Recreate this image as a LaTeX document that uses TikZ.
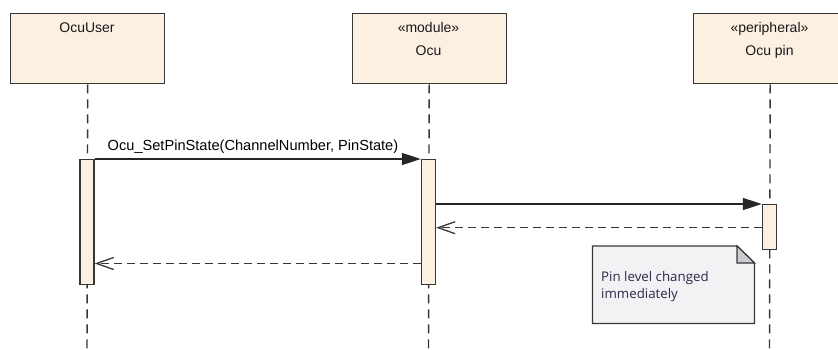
\documentclass[tikz,border=0pt]{standalone}
\usepackage{fontspec}
\setmainfont{Liberation Sans}
\newfontfamily\notefont{Open Sans}
\usetikzlibrary{arrows.meta}
\definecolor{boxfill}{RGB}{251,240,226}
\definecolor{boxline}{RGB}{55,55,55}
\definecolor{notefill}{RGB}{244,241,245}
\definecolor{foldfill}{RGB}{205,203,208}
\definecolor{notetext}{RGB}{40,42,70}
\definecolor{txt}{RGB}{25,25,25}
\tikzset{
  lifebox/.style={draw=boxline, fill=boxfill, line width=1.4pt, minimum width=154pt, minimum height=70pt, inner sep=0pt, anchor=north west},
  boxtext/.style={anchor=base, inner sep=0pt, text=txt, font=\fontsize{14}{16}\selectfont},
  lifeline/.style={draw=boxline, line width=1.4pt, dash pattern=on 9pt off 6pt},
  actbar/.style={draw=boxline, fill=boxfill, line width=1.4pt, minimum width=14pt, inner sep=0pt, anchor=north},
  callmsg/.style={draw=black!85, line width=1.4pt, -{Triangle[length=19pt,width=12pt]}},
  retmsg/.style={draw=boxline, line width=1.4pt, dash pattern=on 8pt off 5pt, -{Straight Barb[length=17pt,width=12pt,line width=1.3pt]}},
  msgtext/.style={anchor=base, inner sep=0pt, text=black, font=\fontsize{14.6}{16}\selectfont},
  notetxt/.style={anchor=base west, inner sep=0pt, text=notetext, font=\notefont\fontsize{13.3}{17}\selectfont}
}
\begin{document}
\begin{tikzpicture}[x=1pt,y=-1pt]
\useasboundingbox (0,0) rectangle (838,349);
\clip (0,0) rectangle (838,349);
% lifelines
\coordinate (uEnd) at (87,352);
\coordinate (oEnd) at (428.5,352);
\coordinate (pEnd) at (769.5,352);
% heads
\node[lifebox] (user) at (10,13) {};
\node[lifebox] (ocu) at (351.5,13) {};
\node[lifebox] (pin) at (692.5,13) {};
\draw[lifeline] (user.south) -- (uEnd);
\draw[lifeline] (ocu.south) -- (oEnd);
\draw[lifeline] (pin.south) -- (pEnd);
\node[boxtext] (userT) at (87,32.3) {OcuUser};
\node[boxtext] (ocuS) at (428.5,32.3) {«module»};
\node[boxtext] (ocuT) at (428.5,55) {Ocu};
\node[boxtext] (pinS) at (769.5,32.3) {«peripheral»};
\node[boxtext] (pinT) at (769.5,55) {Ocu pin};
% activation bars
\node[actbar, minimum height=125pt] (userA) at (87,159) {};
\node[actbar, minimum height=125pt] (ocuA) at (428.5,159) {};
\node[actbar, minimum height=45pt] (pinA) at (769.5,204) {};
% messages
\draw[callmsg] (userA.north east) -- (ocuA.north west);
\node[msgtext] (m1) at (253,150.7) {Ocu\_SetPinState(ChannelNumber, PinState)};
\draw[callmsg] (ocuA.east |- pinA.north) -- (pinA.north west);
\draw[retmsg] (pinA.west |- 0,227.7) -- (ocuA.east |- 0,227.7);
\draw[retmsg] (ocuA.west |- 0,263.5) -- (userA.east |- 0,263.5);
% note
\draw[draw=boxline, fill=notefill, line width=1.4pt] (592.5,246) -- (737,246) -- (754.5,263) -- (754.5,323.5) -- (592.5,323.5) -- cycle;
\draw[draw=boxline, fill=foldfill, line width=1.1pt] (737,246) -- (737,263) -- (754.5,263) -- cycle;
\node[notetxt] (n1) at (601,281) {Pin level changed};
\node[notetxt] (n2) at (601,298) {immediately};
\end{tikzpicture}
\end{document}
